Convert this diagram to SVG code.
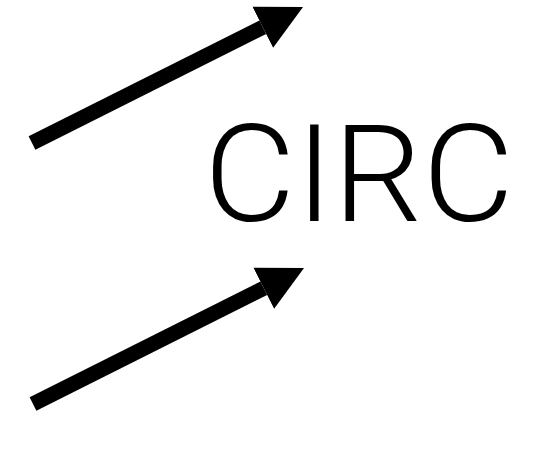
<svg xmlns="http://www.w3.org/2000/svg" width="534" height="476" viewBox="0 0 534 476">
<style>
.conn{stroke:#000;stroke-width:15;fill:none;stroke-linecap:butt}
.lbl{font-family:Roboto,"Liberation Sans",sans-serif;font-weight:300;font-size:136px;fill:#000}
</style>
<defs>
<marker id="ah" markerUnits="userSpaceOnUse" viewBox="0 -24 46 48" refX="0" refY="0" markerWidth="46" markerHeight="48" orient="auto">
<path d="M0,-23 L45,0 L0,23 Z" fill="#000"/>
</marker>
</defs>
<rect width="534" height="476" fill="#fff"/>
<g id="connectors">
<line class="conn" x1="32" y1="143" x2="262.8" y2="27.2" marker-end="url(#ah)"/>
<line class="conn" x1="33" y1="404" x2="263.8" y2="288.2" marker-end="url(#ah)"/>
</g>
<g id="circ">
<text class="lbl" x="204" y="221" textLength="310" lengthAdjust="spacingAndGlyphs">CIRC</text>
</g>
</svg>
